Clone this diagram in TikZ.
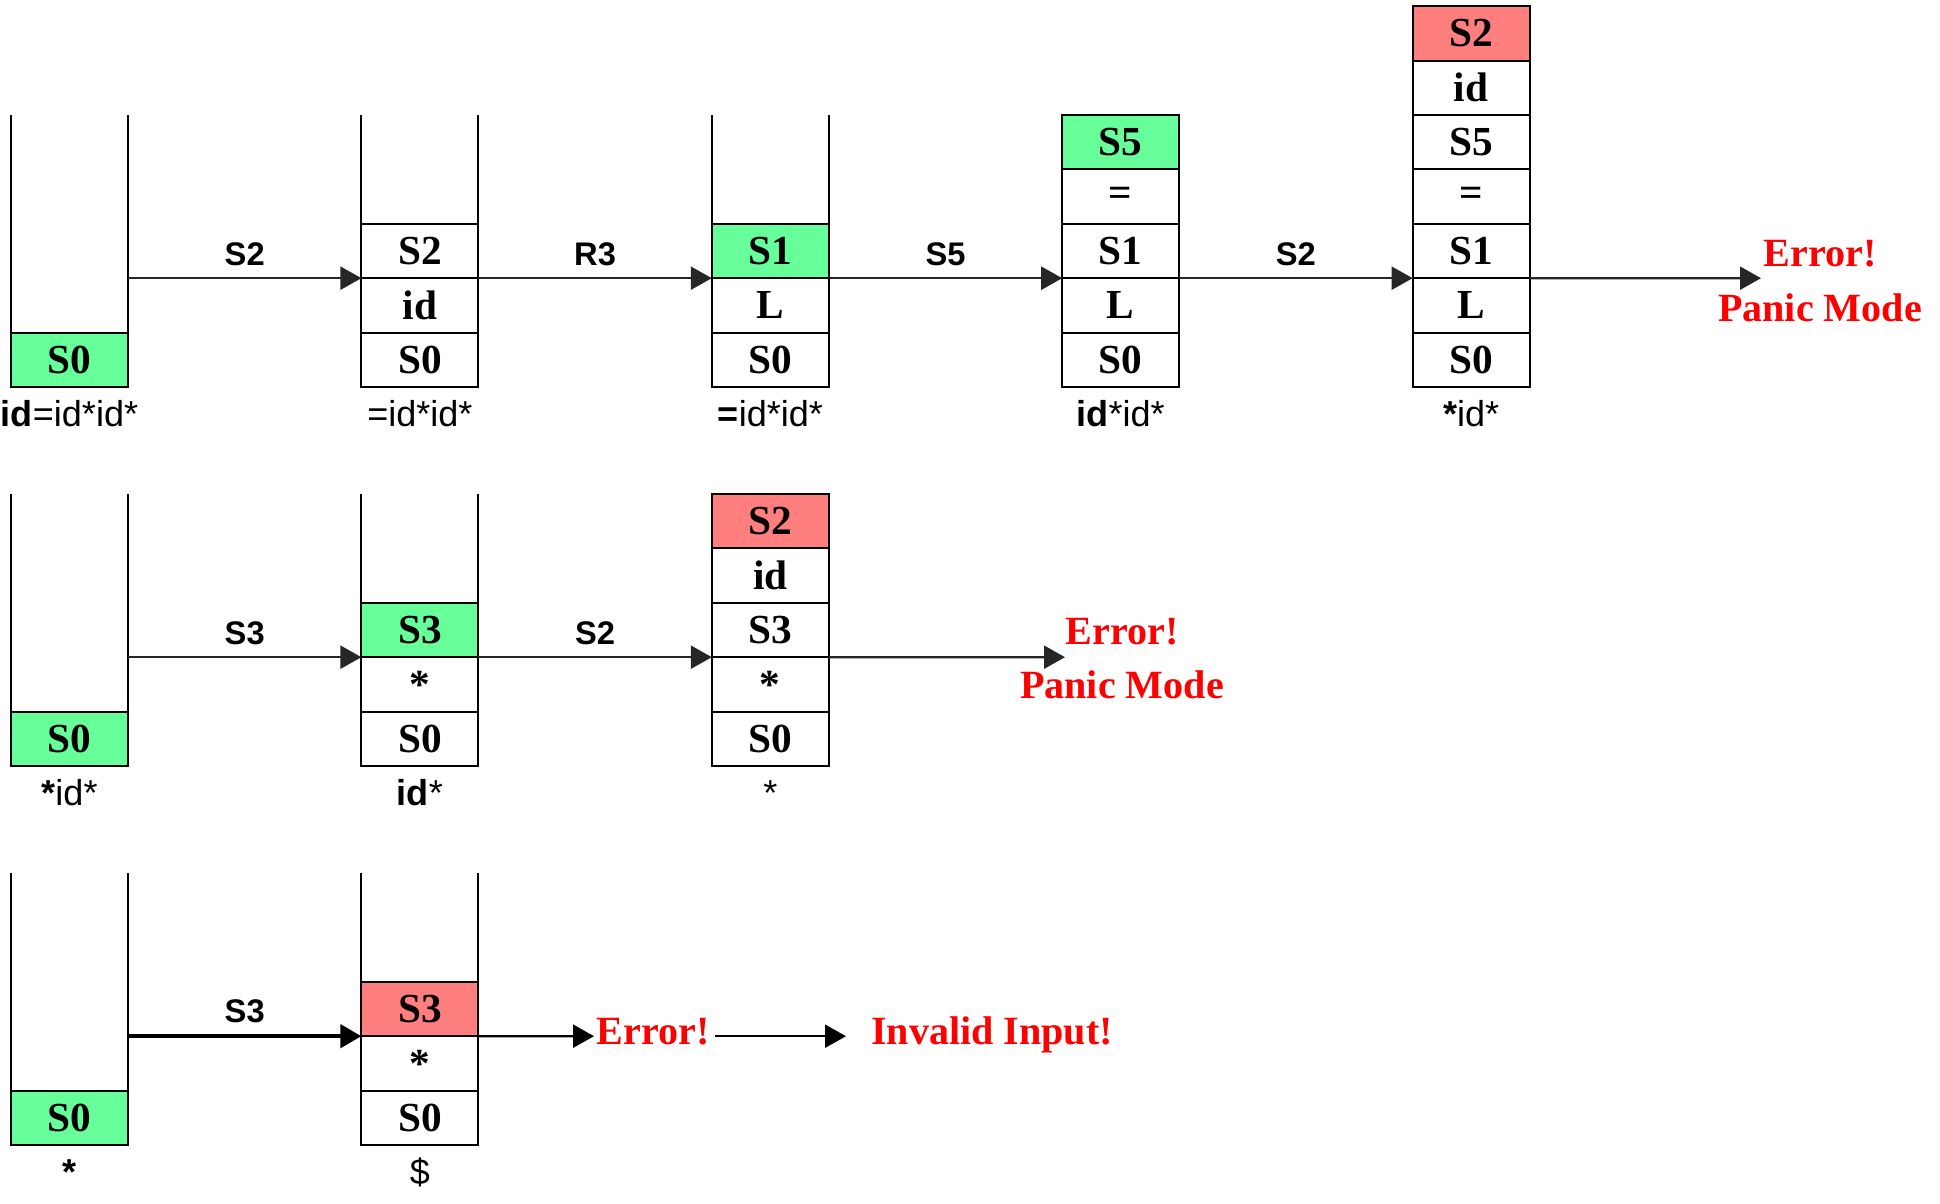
\documentclass[tikz,border=0pt]{standalone}
\usepackage{fontspec}
\setmainfont{Liberation Serif}
\setsansfont{Liberation Sans}
\usepackage{xcolor}
\usetikzlibrary{positioning, arrows.meta}
\definecolor{okgreen}{HTML}{66FF99}
\definecolor{badred}{HTML}{FF7F7F}
\definecolor{errred}{HTML}{FF0000}
\tikzset{
    cell/.style={draw, line width=1.2pt, minimum width=2.34cm, minimum height=1.088cm, inner sep=0pt, outer sep=0pt, font=\fontsize{23.5}{25}\selectfont\bfseries},
    good/.style={cell, fill=okgreen},
    bad/.style={cell, fill=badred},
    wall/.style={line width=1.2pt},
    arr/.style={-{Triangle[length=0.42cm, width=0.46cm]}, line width=1.3pt, black!85},
    act/.style={font=\sffamily\bfseries\fontsize{18.6}{20}\selectfont, inner sep=0pt, text=black},
    inp/.style={font=\sffamily\fontsize{20.5}{22}\selectfont, inner sep=0pt, text height=0.75em, text depth=0.2em},
    errtxt/.style={font=\bfseries\fontsize{22.8}{24}\selectfont, text=errred, inner sep=0.1cm, text height=0.66em, text depth=0pt}
}

\begin{document}
\begin{tikzpicture}
        \useasboundingbox (0,0) rectangle (38.8,24.08);

        % row 1
        \node[good] (r1a0) at (1.39, 16.884) {S0};

        \node[cell] (r1b0) at (8.398, 16.884) {S0};
        \node[cell, above=0pt of r1b0] (r1b1) {id};
        \node[cell, above=0pt of r1b1] (r1b2) {S2};

        \node[cell] (r1c0) at (15.406, 16.884) {S0};
        \node[cell, above=0pt of r1c0] (r1c1) {L};
        \node[good, above=0pt of r1c1] (r1c2) {S1};

        \node[cell] (r1d0) at (22.414, 16.884) {S0};
        \node[cell, above=0pt of r1d0] (r1d1) {L};
        \node[cell, above=0pt of r1d1] (r1d2) {S1};
        \node[cell, above=0pt of r1d2] (r1d3) {=};
        \node[good, above=0pt of r1d3] (r1d4) {S5};

        \node[cell] (r1e0) at (29.422, 16.884) {S0};
        \node[cell, above=0pt of r1e0] (r1e1) {L};
        \node[cell, above=0pt of r1e1] (r1e2) {S1};
        \node[cell, above=0pt of r1e2] (r1e3) {=};
        \node[cell, above=0pt of r1e3] (r1e4) {S5};
        \node[cell, above=0pt of r1e4] (r1e5) {id};
        \node[bad, above=0pt of r1e5] (r1e6) {S2};

        \draw[wall] (r1a0.north west) -- ++(0, 4.352);
        \draw[wall] (r1a0.north east) -- ++(0, 4.352);
        \draw[wall] (r1b2.north west) -- ++(0, 2.176);
        \draw[wall] (r1b2.north east) -- ++(0, 2.176);
        \draw[wall] (r1c2.north west) -- ++(0, 2.176);
        \draw[wall] (r1c2.north east) -- ++(0, 2.176);

        \node[inp, below=0.52cm of r1a0] (in1a) {\textbf{id}=id*id*};
        \node[inp, below=0.52cm of r1b0] (in1b) {=id*id*};
        \node[inp, below=0.52cm of r1c0] (in1c) {\textbf{=}id*id*};
        \node[inp, below=0.52cm of r1d0] (in1d) {\textbf{id}*id*};
        \node[inp, below=0.52cm of r1e0] (in1e) {\textbf{*}id*};

        \coordinate (tip1) at (35.22, 18.516);
        \node[errtxt] (err1) at (36.4, 18.86) {Error!};
        \node[errtxt] (pan1) at (36.4, 17.76) {Panic Mode};

        \draw[arr] ([yshift=1.088cm]r1a0.north east) -- (r1b1.north west) node[midway, act, above=0.22cm] {S2};
        \draw[arr] (r1b1.north east) -- (r1c1.north west) node[midway, act, above=0.22cm] {R3};
        \draw[arr] (r1c1.north east) -- (r1d1.north west) node[midway, act, above=0.22cm] {S5};
        \draw[arr] (r1d1.north east) -- (r1e1.north west) node[midway, act, above=0.22cm] {S2};
        \draw[arr] (r1e1.north east) -- (tip1);

        % row 2
        \node[good] (r2a0) at (1.39, 9.304) {S0};

        \node[cell] (r2b0) at (8.398, 9.304) {S0};
        \node[cell, above=0pt of r2b0] (r2b1) {*};
        \node[good, above=0pt of r2b1] (r2b2) {S3};

        \node[cell] (r2c0) at (15.406, 9.304) {S0};
        \node[cell, above=0pt of r2c0] (r2c1) {*};
        \node[cell, above=0pt of r2c1] (r2c2) {S3};
        \node[cell, above=0pt of r2c2] (r2c3) {id};
        \node[bad, above=0pt of r2c3] (r2c4) {S2};

        \draw[wall] (r2a0.north west) -- ++(0, 4.352);
        \draw[wall] (r2a0.north east) -- ++(0, 4.352);
        \draw[wall] (r2b2.north west) -- ++(0, 2.176);
        \draw[wall] (r2b2.north east) -- ++(0, 2.176);

        \node[inp, below=0.52cm of r2a0] (in2a) {\textbf{*}id*};
        \node[inp, below=0.52cm of r2b0] (in2b) {\textbf{id}*};
        \node[inp, below=0.52cm of r2c0] (in2c) {*};

        \coordinate (tip2) at (21.3, 10.936);
        \node[errtxt] (err2) at (22.44, 11.3) {Error!};
        \node[errtxt] (pan2) at (22.44, 10.22) {Panic Mode};

        \draw[arr] ([yshift=1.088cm]r2a0.north east) -- (r2b1.north west) node[midway, act, above=0.22cm] {S3};
        \draw[arr] (r2b1.north east) -- (r2c1.north west) node[midway, act, above=0.22cm] {S2};
        \draw[arr] (r2c1.north east) -- (tip2);

        % row 3
        \node[good] (r3a0) at (1.39, 1.724) {S0};

        \node[cell] (r3b0) at (8.398, 1.724) {S0};
        \node[cell, above=0pt of r3b0] (r3b1) {*};
        \node[bad, above=0pt of r3b1] (r3b2) {S3};

        \draw[wall] (r3a0.north west) -- ++(0, 4.352);
        \draw[wall] (r3a0.north east) -- ++(0, 4.352);
        \draw[wall] (r3b2.north west) -- ++(0, 2.176);
        \draw[wall] (r3b2.north east) -- ++(0, 2.176);

        \node[inp, below=0.52cm of r3a0] (in3a) {\textbf{*}};
        \node[inp, below=0.52cm of r3b0] (in3b) {\$};

        \coordinate (tip3) at (11.88, 3.356);
        \node[errtxt] (err3) at (13.06, 3.3) {Error!};
        \coordinate (tip4) at (16.92, 3.356);
        \node[errtxt] (inv3) at (19.84, 3.3) {Invalid Input!};

        \draw[arr, line width=2.5pt, black] ([yshift=1.088cm]r3a0.north east) -- (r3b1.north west) node[midway, act, above=0.22cm] {S3};
        \draw[arr, black] (r3b1.north east) -- (tip3);
        \draw[arr, black] (err3.east |- tip4) -- (tip4);

\end{tikzpicture}
\end{document}
